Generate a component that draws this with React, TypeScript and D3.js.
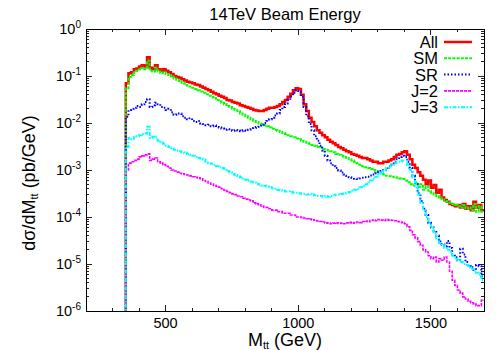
import React from 'react';
import * as d3 from 'd3';

// 10 GeV bins from 350 to 1700 GeV
const binStarts = d3.range(350, 1700, 10);

const allValues = [
  0.07, 0.115, 0.12, 0.14, 0.145, 0.16, 0.17, 0.16, 0.25, 0.15,
  0.14, 0.17, 0.14, 0.13, 0.14, 0.13, 0.12, 0.11, 0.10, 0.095,
  0.092, 0.085, 0.08, 0.075, 0.073, 0.07, 0.066, 0.064, 0.06, 0.056,
  0.053, 0.05, 0.046, 0.043, 0.041, 0.038, 0.036, 0.034, 0.031, 0.03,
  0.028, 0.027, 0.026, 0.024, 0.023, 0.022, 0.021, 0.02, 0.019, 0.0185,
  0.018, 0.018, 0.019, 0.02, 0.021, 0.021, 0.022, 0.023, 0.025, 0.028,
  0.031, 0.036, 0.042, 0.05, 0.055, 0.053, 0.04, 0.025, 0.018, 0.013,
  0.0105, 0.0085, 0.007, 0.0062, 0.0055, 0.005, 0.0044, 0.004, 0.0037, 0.0034,
  0.0031, 0.0029, 0.0027, 0.0025, 0.0024, 0.0022, 0.0021, 0.002, 0.0019, 0.0018,
  0.0018, 0.0017, 0.0016, 0.0015, 0.0015, 0.0014, 0.0014, 0.0015, 0.0015, 0.0016,
  0.0017, 0.0019, 0.0021, 0.0022, 0.0024, 0.0025, 0.0021, 0.0017, 0.0013, 0.0011,
  0.0009, 0.00075, 0.00062, 0.0005, 0.0006, 0.00042, 0.00048, 0.00033, 0.00038, 0.00026,
  0.00023, 0.00021, 0.00019, 0.00018, 0.00017, 0.00018, 0.00016, 0.00019, 0.00015, 0.00017,
  0.00014, 0.00021, 0.00016, 0.00018, 0.00014,
];

const smValues = [
  0.055, 0.095, 0.105, 0.12, 0.13, 0.14, 0.15, 0.14, 0.21, 0.13,
  0.125, 0.15, 0.125, 0.115, 0.12, 0.11, 0.105, 0.097, 0.088, 0.083,
  0.078, 0.072, 0.068, 0.063, 0.06, 0.056, 0.053, 0.05, 0.047, 0.044,
  0.041, 0.038, 0.036, 0.034, 0.031, 0.029, 0.027, 0.025, 0.023, 0.022,
  0.02, 0.019, 0.018, 0.016, 0.015, 0.014, 0.013, 0.012, 0.011, 0.0105,
  0.0098, 0.0094, 0.009, 0.0085, 0.008, 0.0075, 0.0071, 0.0068, 0.0064, 0.0061,
  0.0058, 0.0055, 0.0052, 0.005, 0.0047, 0.0045, 0.0042, 0.004, 0.0038, 0.0036,
  0.0034, 0.0033, 0.0031, 0.003, 0.0028, 0.0027, 0.0026, 0.0025, 0.0024, 0.0022,
  0.0021, 0.002, 0.0019, 0.0018, 0.0017, 0.0016, 0.0015, 0.0014, 0.0013, 0.0012,
  0.00115, 0.0011, 0.00105, 0.001, 0.00095, 0.0009, 0.00085, 0.0008, 0.00075, 0.00074,
  0.00072, 0.0007, 0.00068, 0.00066, 0.00064, 0.0006, 0.00055, 0.0005, 0.00047, 0.00055,
  0.00044, 0.0005, 0.00038, 0.00045, 0.00036, 0.00033, 0.0003, 0.00028, 0.00026, 0.00024,
  0.00022, 0.00021, 0.0002, 0.00019, 0.00018, 0.00017, 0.00016, 0.00018, 0.00015, 0.00016,
  0.00014, 0.00019, 0.00013, 0.00017, 0.00013,
];

const srValues = [
  0.0135, 0.019, 0.02, 0.021, 0.023, 0.022, 0.025, 0.028, 0.032, 0.022,
  0.024, 0.027, 0.025, 0.022, 0.021, 0.019, 0.02, 0.017, 0.015, 0.016,
  0.016, 0.014, 0.013, 0.012, 0.0125, 0.011, 0.0105, 0.011, 0.0098, 0.0095,
  0.009, 0.0092, 0.0085, 0.0088, 0.0082, 0.008, 0.0076, 0.0072, 0.0074, 0.007,
  0.0068, 0.0071, 0.0069, 0.0067, 0.007, 0.0068, 0.0072, 0.0074, 0.0078, 0.0082,
  0.0088, 0.0093, 0.01, 0.011, 0.012, 0.013, 0.0145, 0.016, 0.019, 0.022,
  0.026, 0.031, 0.037, 0.044, 0.05, 0.048, 0.036, 0.022, 0.014, 0.0095,
  0.007, 0.0052, 0.0042, 0.0033, 0.0026, 0.002, 0.0016, 0.0014, 0.0012, 0.0011,
  0.00098, 0.00088, 0.0008, 0.00075, 0.0007, 0.00068, 0.00065, 0.00064, 0.00066, 0.00068,
  0.0007, 0.00072, 0.00076, 0.0008, 0.00085, 0.0009, 0.00095, 0.001, 0.0011, 0.0012,
  0.0013, 0.0015, 0.0017, 0.0019, 0.002, 0.0019, 0.0015, 0.0011, 0.00075, 0.0005,
  0.00032, 0.00022, 0.00015, 0.00011, 0.000075, 0.00006, 0.000048, 0.00004, 0.00003, 0.000026,
  0.000024, 0.000031, 0.000022, 0.000016, 0.000014, 0.000012, 0.000021, 0.000016, 0.000011, 0.000009,
  0.0000085, 0.0000075, 0.0000095, 0.000009, 0.0000055,
];

const j2Values = [
  0.001, 0.0014, 0.0015, 0.0016, 0.0017, 0.0019, 0.002, 0.0021, 0.0022, 0.0016,
  0.0017, 0.0018, 0.0015, 0.0014, 0.0013, 0.0012, 0.0011, 0.001, 0.00095, 0.0009,
  0.00085, 0.00083, 0.0008, 0.00078, 0.00075, 0.00072, 0.0007, 0.00068, 0.00065, 0.0006,
  0.00057, 0.00053, 0.0005, 0.00047, 0.00045, 0.00043, 0.0004, 0.00037, 0.00035, 0.00033,
  0.00031, 0.0003, 0.00028, 0.00027, 0.00025, 0.00024, 0.00023, 0.00022, 0.0002, 0.00019,
  0.00018, 0.00017, 0.00016, 0.00016, 0.00015, 0.00014, 0.00014, 0.00013, 0.00013, 0.00012,
  0.00012, 0.00012, 0.00011, 0.00011, 0.0001, 0.0001, 0.000098, 0.000095, 0.000092, 0.00009,
  0.000087, 0.000085, 0.000082, 0.00008, 0.000078, 0.000075, 0.000074, 0.000072, 0.000074, 0.000075,
  0.000073, 0.000074, 0.000072, 0.000075, 0.000077, 0.000074, 0.000076, 0.000078, 0.000076, 0.00008,
  0.000082, 0.000079, 0.000084, 0.000086, 0.000083, 0.000088, 0.000086, 0.000084, 0.000088, 0.000086,
  0.000085, 0.000083, 0.00008, 0.000078, 0.000076, 0.000072, 0.000062, 0.000052, 0.000042, 0.000036,
  0.00003, 0.000025, 0.00002, 0.000018, 0.000015, 0.000013, 0.000014, 0.000011, 0.000013, 0.000012,
  0.000014, 0.000011, 0.000007, 0.0000045, 0.0000035, 0.0000028, 0.0000024, 0.000002, 0.0000018, 0.0000016,
  0.0000015, 0.0000014, 0.0000013, 0.0000013, 0.0000017,
];

const j3Values = [
  0.0031, 0.0048, 0.0045, 0.005, 0.0052, 0.0055, 0.0058, 0.006, 0.0083, 0.0048,
  0.0051, 0.0049, 0.0042, 0.004, 0.0036, 0.0033, 0.0031, 0.0029, 0.0027, 0.0026,
  0.0025, 0.0024, 0.0023, 0.0022, 0.0021, 0.002, 0.0019, 0.0018, 0.00175, 0.0017,
  0.0015, 0.0014, 0.00135, 0.0013, 0.0012, 0.00115, 0.0011, 0.001, 0.00095, 0.0009,
  0.00082, 0.00078, 0.00074, 0.0007, 0.00066, 0.00062, 0.00058, 0.00056, 0.00054, 0.00051,
  0.00049, 0.00047, 0.00046, 0.00044, 0.00043, 0.00041, 0.0004, 0.00038, 0.00037, 0.00036,
  0.00035, 0.00035, 0.00034, 0.00033, 0.00033, 0.00032, 0.00031, 0.00031, 0.0003, 0.00031,
  0.0003, 0.00029, 0.00028, 0.00028, 0.00027, 0.00028, 0.00027, 0.00028, 0.00029, 0.0003,
  0.0003, 0.00031, 0.00032, 0.00033, 0.00034, 0.00036, 0.00038, 0.0004, 0.00043, 0.00046,
  0.0005, 0.00055, 0.0006, 0.00066, 0.00072, 0.0008, 0.00088, 0.00097, 0.0011, 0.0012,
  0.0013, 0.0014, 0.0015, 0.0015, 0.0016, 0.0016, 0.0013, 0.001, 0.00068, 0.00045,
  0.0003, 0.0002, 0.00014, 0.0001, 0.000075, 0.00006, 0.000045, 0.000035, 0.000028, 0.000025,
  0.000022, 0.00002, 0.000018, 0.000015, 0.000013, 0.000012, 0.000011, 0.00001, 0.0000095, 0.0000085,
  0.000008, 0.0000072, 0.0000065, 0.000006, 0.0000045,
];

const seriesNames = ['All', 'SM', 'SR', 'J=2', 'J=3'];
const seriesColors = ['#ff0000', '#00ff00', '#0000ff', '#ff00ff', '#00ffff'];
const seriesDashes = ['none', '3,1.2', '1.5,2', '3,1', '4,1.5,1.5,1.5'];
const seriesWidths = [2.5, 2, 2, 1.6, 2];
const seriesValues = [allValues, smValues, srValues, j2Values, j3Values];

const xMajorTicks = [500, 1000, 1500];
const yExponents = [-6, -5, -4, -3, -2, -1, 0];

const margin = { top: 29, right: 16, bottom: 39, left: 86 };
const W = 500;
const H = 350;
const FONT = '"Liberation Sans", Arial, Helvetica, sans-serif';

export default function App() {
  const x = d3.scaleLinear().domain([200, 1700]).range([margin.left, W - margin.right]);
  const y = d3.scaleLog().domain([1e-6, 1]).range([H - margin.bottom, margin.top]);
  const [x0, x1] = x.range();
  const [y0, y1] = y.range();

  const line = d3.line<{ m: number; v: number }>()
    .x(d => x(d.m))
    .y(d => y(d.v))
    .curve(d3.curveStepAfter);

  const makePath = (vals: number[]) => {
    const pts = [{ m: 350, v: 1e-9 }, ...binStarts.map((m, i) => ({ m, v: vals[i] }))];
    pts.push({ m: 1700, v: vals[vals.length - 1] });
    return line(pts) || '';
  };

  const xMinor = d3.range(200, 1701, 100).filter(v => !xMajorTicks.includes(v));
  const yMinor: number[] = [];
  yExponents.slice(0, -1).forEach(e => {
    for (let k = 2; k <= 9; k++) yMinor.push(k * Math.pow(10, e));
  });

  const majorLen = 6;
  const minorLen = 3;
  const tickColor = '#222';

  return (
    <svg width={W} height={H} style={{ position: 'absolute', left: 0, top: 0, background: '#fff' }} fontFamily={FONT}>
      <defs>
        <clipPath id="plot-clip">
          <rect x={x0} y={y1} width={x1 - x0} height={y0 - y1} />
        </clipPath>
      </defs>

      {/* title */}
      <text x={(x0 + x1) / 2} y={20} textAnchor="middle" fontSize={16.5}>14TeV Beam Energy</text>

      {/* ticks */}
      <g stroke={tickColor} strokeWidth={1} shapeRendering="crispEdges">
        {xMajorTicks.map(t => (
          <g key={'xM' + t}>
            <line x1={x(t)} x2={x(t)} y1={y0} y2={y0 - majorLen} />
            <line x1={x(t)} x2={x(t)} y1={y1} y2={y1 + majorLen} />
          </g>
        ))}
        {xMinor.map(t => (
          <g key={'xm' + t}>
            <line x1={x(t)} x2={x(t)} y1={y0} y2={y0 - minorLen} />
            <line x1={x(t)} x2={x(t)} y1={y1} y2={y1 + minorLen} />
          </g>
        ))}
        {yExponents.map(e => (
          <g key={'yM' + e}>
            <line x1={x0} x2={x0 + majorLen} y1={y(Math.pow(10, e))} y2={y(Math.pow(10, e))} />
            <line x1={x1} x2={x1 - majorLen} y1={y(Math.pow(10, e))} y2={y(Math.pow(10, e))} />
          </g>
        ))}
        {yMinor.map(v => (
          <g key={'ym' + v}>
            <line x1={x0} x2={x0 + minorLen} y1={y(v)} y2={y(v)} />
            <line x1={x1} x2={x1 - minorLen} y1={y(v)} y2={y(v)} />
          </g>
        ))}
      </g>

      {/* series */}
      <g clipPath="url(#plot-clip)" fill="none">
        {seriesValues.map((vals, i) => (
          <path
            key={seriesNames[i]}
            d={makePath(vals)}
            stroke={seriesColors[i]}
            strokeWidth={seriesWidths[i]}
            strokeDasharray={seriesDashes[i]}
            strokeLinejoin="miter"
          />
        ))}
      </g>

      {/* frame */}
      <rect x={x0} y={y1} width={x1 - x0} height={y0 - y1} fill="none" stroke="#000" strokeWidth={1} shapeRendering="crispEdges" />

      {/* x tick labels */}
      {xMajorTicks.map(t => (
        <text key={'xl' + t} x={x(t)} y={y0 + 17} textAnchor="middle" fontSize={14.5}>{t}</text>
      ))}

      {/* y tick labels */}
      {yExponents.map(e => (
        <text key={'yl' + e} x={x0 - 5} y={y(Math.pow(10, e)) + 5} textAnchor="end" fontSize={14.5}>
          10<tspan fontSize={10} dy={-6}>{e}</tspan>
        </text>
      ))}

      {/* axis labels */}
      <text x={(x0 + x1) / 2} y={346} textAnchor="middle" fontSize={18}>
        M<tspan fontSize={11} dy={3}>tt</tspan><tspan dy={-3}> (GeV)</tspan>
      </text>
      <text transform={`translate(35,${(y0 + y1) / 2 + 13}) rotate(-90)`} textAnchor="middle" fontSize={18}>
        dσ/dM<tspan fontSize={11} dy={3}>tt</tspan><tspan dy={-3}> (pb/GeV)</tspan>
      </text>

      {/* legend */}
      {seriesNames.map((name, i) => {
        const ly = 42 + i * 16.3;
        return (
          <g key={'lg' + name}>
            <text x={438} y={ly + 6} textAnchor="end" fontSize={16.5}>{name}</text>
            <line
              x1={444}
              x2={472}
              y1={ly}
              y2={ly}
              stroke={seriesColors[i]}
              strokeWidth={seriesWidths[i]}
              strokeDasharray={seriesDashes[i]}
            />
          </g>
        );
      })}
    </svg>
  );
}
